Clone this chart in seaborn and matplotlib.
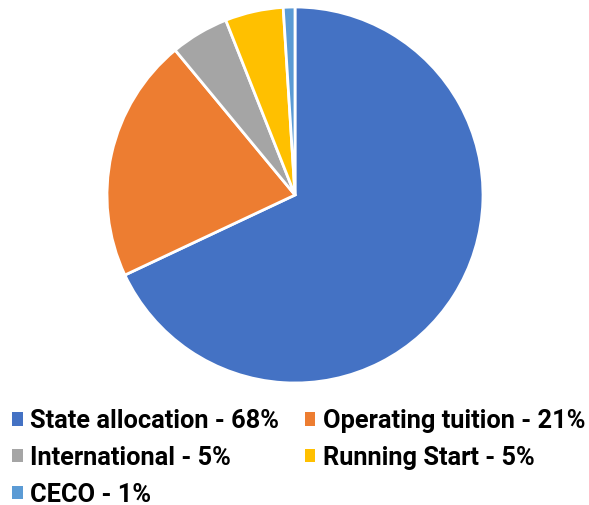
import matplotlib
matplotlib.use("Agg")
import matplotlib.pyplot as plt
import seaborn as sns
from matplotlib.patches import Patch

sns.set_style("white")
plt.rcParams['font.family'] = ['Roboto', 'DejaVu Sans']

# data
categories = ["State allocation", "Operating tuition", "International", "Running Start", "CECO"]
shares = [68, 21, 5, 5, 1]
colors = ["#4472C4", "#ED7D31", "#A5A5A5", "#FFC000", "#5B9BD5"]

fig = plt.figure(figsize=(5.89, 5.05), dpi=100)
ax = fig.add_axes([(295 - 188) / 589, (505 - 195 - 188) / 505, 376 / 589, 376 / 505])
ax.pie(shares, colors=colors, startangle=90, counterclock=False,
       wedgeprops=dict(edgecolor="white", linewidth=2))
ax.set_xlim(-1, 1)
ax.set_ylim(-1, 1)
ax.set_aspect("equal")

labels = [f"{c} - {s}%" for c, s in zip(categories, shares)]
handles = [Patch(facecolor=col, edgecolor="none") for col in colors]
# legend fills column-major, so reorder to get row-major layout
order = [0, 2, 4, 1, 3]
fig.legend([handles[i] for i in order], [labels[i] for i in order],
           loc="upper left", bbox_to_anchor=(0.003, 0.21), borderaxespad=0,
           ncol=2, frameon=False,
           handlelength=0.42, handleheight=0.42, handletextpad=0.3,
           columnspacing=1.0, labelspacing=0.5, labelcolor="black",
           prop=dict(weight="bold", size=18.3))

fig.savefig("out.png", dpi=100)
